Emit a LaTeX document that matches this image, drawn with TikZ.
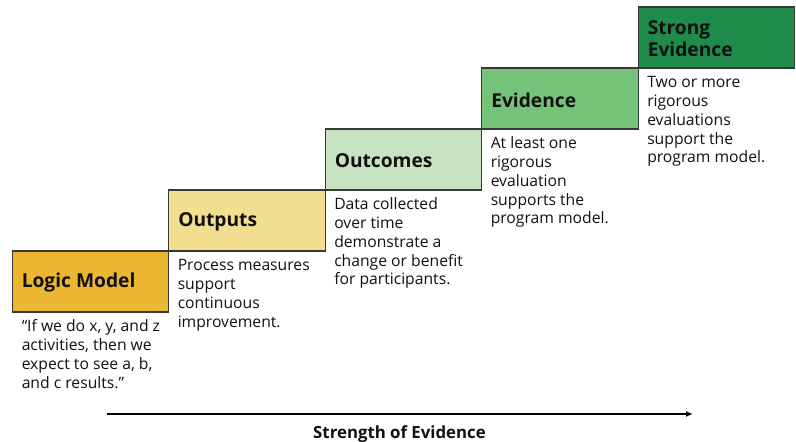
\documentclass[tikz,border=0pt]{standalone}
\usepackage{fontspec}
\setmainfont{Open Sans}
\usetikzlibrary{arrows.meta}
\definecolor{cLogic}{HTML}{EBB733}
\definecolor{cOut}{HTML}{F2DE91}
\definecolor{cOutc}{HTML}{C7E3C1}
\definecolor{cEvid}{HTML}{75C378}
\definecolor{cStrong}{HTML}{1E8B4B}
\definecolor{cBorder}{HTML}{383838}
\definecolor{cText}{HTML}{111111}
\tikzset{
  stepbox/.style={draw=cBorder, line width=1.3pt, rectangle, minimum width=156.6pt, minimum height=61pt,
    text width=136.6pt, inner xsep=10pt, inner ysep=0pt, align=left, text=cText},
  steptitle/.style={anchor=west, inner sep=0pt, align=left,
    font=\fontsize{19.2}{22}\selectfont\bfseries, text=cText},
  desc/.style={anchor=north west, inner sep=0pt, align=left,
    font=\fontsize{15.7}{18.7}\selectfont, text=cText},
}
\begin{document}
\begin{tikzpicture}[x=1pt,y=-1pt]
\useasboundingbox (0,0) rectangle (796,442);
\node[stepbox, fill=cLogic] (lm) at (90.5,281.5) {};
\node[stepbox, fill=cOut] (op) at (247,220.5) {};
\node[stepbox, fill=cOutc] (oc) at (403.5,159.5) {};
\node[stepbox, fill=cEvid] (ev) at (560,98.5) {};
\node[stepbox, fill=cStrong] (se) at (716.5,37.5) {};

\node[steptitle] (lmt) at ([xshift=10pt,yshift=-1.5pt]lm.west) {Logic Model};
\node[steptitle] (opt) at ([xshift=10pt,yshift=-1.5pt]op.west) {Outputs};
\node[steptitle] (oct) at ([xshift=10pt,yshift=-1.5pt]oc.west) {Outcomes};
\node[steptitle] (evt) at ([xshift=10pt,yshift=-1.5pt]ev.west) {Evidence};
\node[steptitle] (set) at ([xshift=10pt,yshift=-1pt]se.west) {Strong\\Evidence};

\node[desc] (lmd) at ([xshift=10pt,yshift=-6pt]lm.south west) {\strut “If we do x, y, and z\\activities, then we\\expect to see a, b,\\and c results.”};
\node[desc] (opd) at ([xshift=9.5pt,yshift=-6pt]op.south west) {\strut Process measures\\support\\continuous\\improvement.};
\node[desc] (ocd) at ([xshift=9.5pt,yshift=-6pt]oc.south west) {\strut Data collected\\over time\\demonstrate a\\change or benefit\\for participants.};
\node[desc] (evd) at ([xshift=9.5pt,yshift=-6pt]ev.south west) {\strut At least one\\rigorous\\evaluation\\supports the\\program model.};
\node[desc] (sed) at ([xshift=9.5pt,yshift=-6pt]se.south west) {\strut Two or more\\rigorous\\evaluations\\support the\\program model.};

\coordinate (a0) at (107,414);
\coordinate (a1) at (693,414);
\draw[line width=2pt, -{Latex[length=7pt,width=6pt]}] (a0) -- (a1);
\node[anchor=base, inner sep=0pt, font=\fontsize{16.8}{18}\selectfont\bfseries, text=cText] (lbl) at (399.5,438) {Strength of Evidence};
\end{tikzpicture}
\end{document}
